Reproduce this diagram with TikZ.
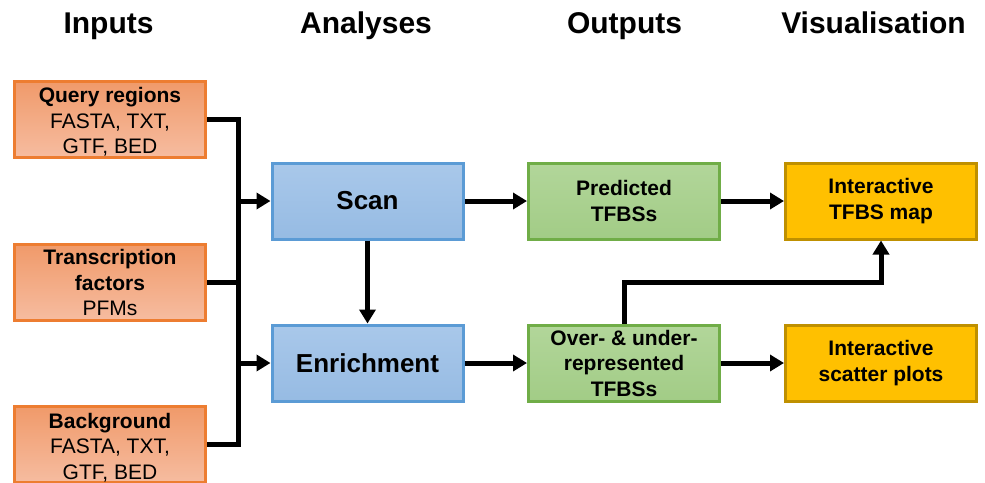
\documentclass[tikz,border=0pt]{standalone}
\usepackage{fontspec}
\setmainfont{Liberation Sans}
\usetikzlibrary{arrows.meta,calc}

\definecolor{inborder}{HTML}{ED7D31}
\definecolor{intop}{HTML}{F09A6A}
\definecolor{inbot}{HTML}{F6BCA0}
\definecolor{anborder}{HTML}{5B9BD5}
\definecolor{antop}{HTML}{A9C8EA}
\definecolor{anbot}{HTML}{96BBE3}
\definecolor{outborder}{HTML}{70AD47}
\definecolor{outtop}{HTML}{B2D69A}
\definecolor{outbot}{HTML}{A2CC86}
\definecolor{visborder}{HTML}{BF9000}
\definecolor{visfill}{HTML}{FFC000}

% taller first line, so the block of text sits slightly lower in its box
\newcommand{\tallline}{\rule{0pt}{21pt}}

\tikzset{
  box/.style={rectangle, line width=3pt, minimum width=191pt, minimum height=76pt,
    inner sep=0pt, align=center, font=\fontsize{21}{25.5}\selectfont},
  inbox/.style={box, draw=inborder, top color=intop, bottom color=inbot},
  anbox/.style={box, draw=anborder, top color=antop, bottom color=anbot,
    font=\fontsize{26}{30}\selectfont\bfseries},
  outbox/.style={box, draw=outborder, top color=outtop, bottom color=outbot,
    font=\fontsize{21}{25.5}\selectfont\bfseries},
  visbox/.style={box, draw=visborder, fill=visfill,
    font=\fontsize{21}{25.5}\selectfont\bfseries},
  header/.style={anchor=base, font=\fontsize{30}{34}\selectfont\bfseries},
  wire/.style={draw=black, line width=5pt, line join=miter},
  arr/.style={wire, -{Triangle[length=14pt,width=16pt]}}
}

\begin{document}
\begin{tikzpicture}[x=1pt,y=-1pt]
\useasboundingbox (0,0) rectangle (985,482);

% column headings
\node[header] (hin)  at (108.5,33) {Inputs};
\node[header] (han)  at (366,33)   {Analyses};
\node[header] (hout) at (624.5,33) {Outputs};
\node[header] (hvis) at (873.5,33) {Visualisation};

% inputs
\node[inbox] (q)  at (110,119)   {\tallline\textbf{Query regions}\\FASTA, TXT,\\GTF, BED};
\node[inbox] (tf) at (110,282.5) {\textbf{Transcription}\\\textbf{factors}\\PFMs};
\node[inbox] (bg) at (110,444.5) {\tallline\textbf{Background}\\FASTA, TXT,\\GTF, BED};

% analyses
\node[anbox] (scan) at (367.5,201) {Scan};
\node[anbox] (enr)  at (367.5,363) {Enrichment};

% outputs
\node[outbox] (pred) at (624,201) {Predicted\\TFBSs};
\node[outbox] (over) at (624,363) {Over- \& under-\\represented\\TFBSs};

% visualisation
\node[visbox] (map)  at (881,201) {Interactive\\TFBS map};
\node[visbox] (scat) at (881,363) {Interactive\\scatter plots};

% input bus
\coordinate (bustop) at (238,119);
\coordinate (busbot) at (238,444.5);
\draw[wire] (q.east) -- (bustop) -- (busbot) -- (bg.east);
\draw[wire] (tf.east) -- (tf.east -| bustop);
\draw[arr] (scan.west -| bustop) -- (scan.west);
\draw[arr] (enr.west -| bustop) -- (enr.west);

% flow
\draw[arr] (scan.south) -- (enr.north);
\draw[arr] (scan.east) -- (pred.west);
\draw[arr] (enr.east) -- (over.west);
\draw[arr] (pred.east) -- (map.west);
\draw[arr] (over.east) -- (scat.west);
\draw[arr] (over.north) -- ++(0,-41.5) -| (map.south);
\end{tikzpicture}
\end{document}
